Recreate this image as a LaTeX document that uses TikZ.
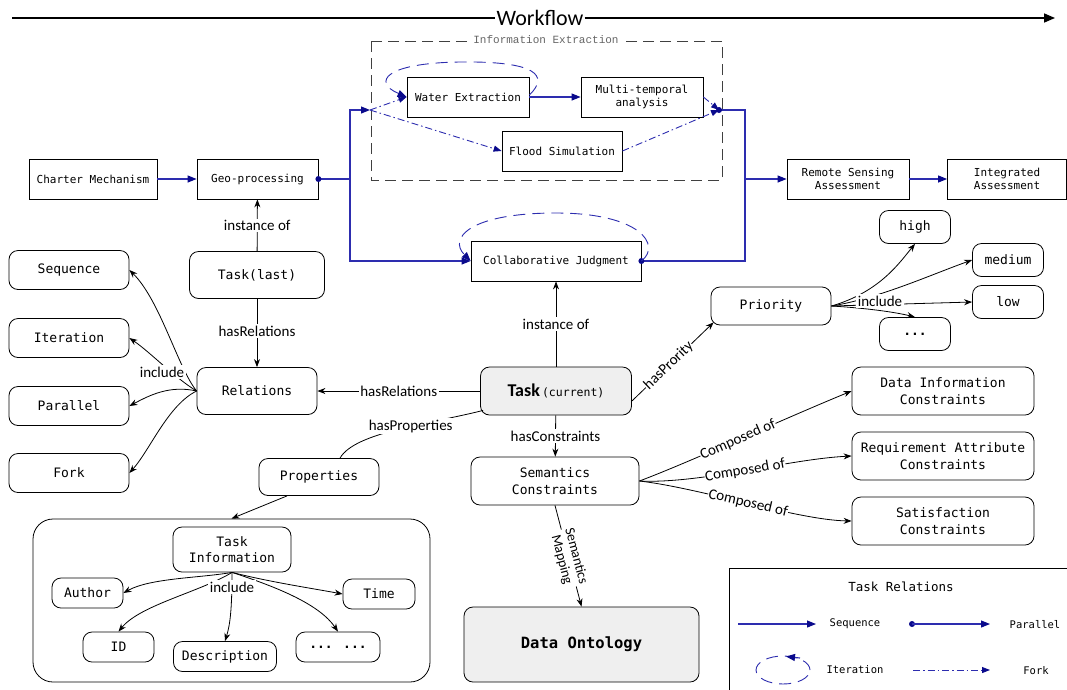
\documentclass[tikz,border=0pt]{standalone}
\usepackage{fontspec}
\usetikzlibrary{arrows.meta,calc}
\newfontfamily\monof{DejaVu Sans Mono}
\newfontfamily\labf{Carlito}
\newfontfamily\serm{Liberation Mono}
\definecolor{flowc}{RGB}{45,45,175}
\definecolor{headc}{RGB}{10,10,140}
\definecolor{boxfill}{RGB}{239,239,239}
\begin{document}
\begin{tikzpicture}[x=1pt,y=-1pt,
  wfbox/.style={draw, line width=0.8pt, font=\monof\fontsize{11}{13.5}\selectfont, align=center, inner sep=0pt, minimum height=40pt},
  obox/.style={draw, line width=0.8pt, rounded corners=9pt, font=\monof\fontsize{13}{16.5}\selectfont, align=center, inner sep=0pt},
  lab/.style={font=\labf\fontsize{15}{17}\selectfont, fill=white, inner sep=1.5pt},
  leg/.style={font=\monof\fontsize{10.5}{13}\selectfont},
  arr/.style={line width=0.8pt, -{Stealth[length=8pt,width=6pt]}},
  plain/.style={line width=0.8pt},
  flow/.style={draw=flowc, line width=1.1pt},
  seq/.style={flow, -{Triangle[length=9pt,width=7pt,color=headc]}},
  fork/.style={flow, line width=0.9pt, dash pattern=on 7pt off 3pt on 1.5pt off 3pt, -{Triangle[length=8pt,width=6pt,color=headc]}},
  iter/.style={flow, line width=0.9pt, dash pattern=on 12pt off 7pt, -{Triangle[length=9pt,width=7pt,color=headc]}}
]
\useasboundingbox (0,0) rectangle (1067,689);

% ---------- Workflow axis
\node[font=\labf\fontsize{22}{24}\selectfont, inner sep=1pt] (wfl) at (540,18) {Workflow};
\coordinate (wfs) at (12,18);
\coordinate (wfe) at (1055,18);
\draw[line width=1.6pt] (wfs) -- (wfl.west);
\draw[line width=1.6pt, -{Triangle[length=11pt,width=9pt]}] (wfl.east) -- (wfe);

% ---------- Information extraction frame
\draw[dash pattern=on 11pt off 6pt, line width=0.9pt, black!75] (371,41) rectangle (722,180);
\node[fill=white, font=\serm\fontsize{11}{12}\selectfont, text=black!60, inner sep=2pt] (iet) at (546,40) {Information Extraction};

% ---------- Workflow boxes
\node[wfbox, minimum width=128pt] (cm) at (93,179) {Charter Mechanism};
\node[wfbox, minimum width=121pt] (gp) at (257.5,179) {Geo-processing};
\node[wfbox, minimum width=122pt] (we) at (468,97) {Water Extraction};
\node[wfbox, minimum width=122pt] (mt) at (642,97) {Multi-temporal\\analysis};
\node[wfbox, minimum width=120pt] (fs) at (562,151) {Flood Simulation};
\node[wfbox, minimum width=122pt] (rs) at (848,179) {Remote Sensing\\Assessment};
\node[wfbox, minimum width=119pt] (ia) at (1007,179) {Integrated\\Assessment};
\node[wfbox, minimum width=170pt] (cj) at (556,261) {Collaborative Judgment};

\coordinate (forkL) at (370,110);
\coordinate (splitT) at (350,110);
\coordinate (splitM) at (350,179);
\coordinate (splitB) at (350,261);
\coordinate (joinR) at (719,110);
\coordinate (mergeT) at (745,110);
\coordinate (mergeM) at (745,179);
\coordinate (mergeB) at (745,261);

\draw[seq] (cm.east) -- (gp.west);
\draw[flow] (gp.east) -- (splitM);
\draw[seq] (splitM) -- (splitT) -- (forkL);
\draw[seq] (splitM) -- (splitB) -- (cj.west);
\draw[seq] (we.east) -- (mt.west);
\draw[fork] (forkL) -- (we.west);
\draw[fork] (forkL) -- (fs.west);
\draw[fork] (mt.east) -- (joinR);
\draw[fork] (fs.east) -- (joinR);
\draw[flow] (joinR) -- (mergeT) -- (mergeB) -- (cj.east);
\draw[seq] (mergeM) -- (rs.west);
\draw[seq] (rs.east) -- (ia.west);
\fill[headc] (gp.east) circle (3pt);
\fill[headc] (joinR) circle (3pt);
\fill[headc] (cj.east) circle (3pt);

\draw[iter] ($(we.east)+(0,-2)$) .. controls (550,75) and (535,61) .. (460,62) .. controls (385,63) and (372,82) .. (we.west);
\draw[iter] (cj.east) .. controls (662,245) and (640,213) .. (556,213) .. controls (470,213) and (448,238) .. (cj.west);

% ---------- Ontology part
\node[obox, minimum width=135pt, minimum height=47pt] (tl) at (257,275) {Task(last)};
\node[obox, minimum width=120pt, minimum height=47pt] (rel) at (257,391) {Relations};
\node[obox, minimum width=120pt, minimum height=39pt] (sq) at (69,270) {Sequence};
\node[obox, minimum width=120pt, minimum height=39pt] (it) at (69,338) {Iteration};
\node[obox, minimum width=120pt, minimum height=39pt] (pa) at (69,406) {Parallel};
\node[obox, minimum width=120pt, minimum height=39pt] (fk) at (69,473) {Fork};

\node[obox, fill=boxfill, minimum width=151pt, minimum height=48pt] (tc) at (556,391)
  {{\labf\bfseries\fontsize{18}{20}\selectfont Task}\,{\fontsize{11.5}{14}\selectfont(current)}};
\node[obox, minimum width=120pt, minimum height=38pt] (pri) at (771,306) {Priority};
\node[obox, minimum width=71pt, minimum height=33pt] (hi) at (915,227) {high};
\node[obox, minimum width=71pt, minimum height=33pt] (me) at (1008,260) {medium};
\node[obox, minimum width=71pt, minimum height=33pt] (lo) at (1008,302) {low};
\node[obox, minimum width=71pt, minimum height=33pt, font=\monof\bfseries\fontsize{13}{16.5}\selectfont] (pd) at (915,334) {...};

\node[obox, minimum width=182pt, minimum height=48pt] (dic) at (943,391) {Data Information\\Constraints};
\node[obox, minimum width=182pt, minimum height=48pt] (rac) at (943,456) {Requirement Attribute\\Constraints};
\node[obox, minimum width=182pt, minimum height=48pt] (sac) at (943,521) {Satisfaction\\Constraints};
\node[obox, minimum width=168pt, minimum height=48pt] (scn) at (555,481) {Semantics\\Constraints};
\node[obox, fill=boxfill, minimum width=235pt, minimum height=75pt, font=\monof\bfseries\fontsize{15.5}{18}\selectfont] (dont) at (581.5,644.5) {Data Ontology};

\node[obox, minimum width=120pt, minimum height=37pt] (prop) at (319,477) {Properties};
\node[draw, line width=0.8pt, rounded corners=20pt, minimum width=397pt, minimum height=163pt] (bb) at (231.5,600.5) {};
\node[obox, minimum width=118pt, minimum height=45pt] (ti) at (232,549.5) {Task\\Information};
\node[obox, minimum width=71pt, minimum height=30pt] (au) at (87.5,593) {Author};
\node[obox, minimum width=72pt, minimum height=30pt] (tm) at (379,594) {Time};
\node[obox, minimum width=71pt, minimum height=30pt] (idn) at (118.5,647) {ID};
\node[obox, minimum width=103pt, minimum height=30pt] (de) at (225,656.5) {Description};
\node[obox, minimum width=84pt, minimum height=30pt, font=\monof\bfseries\fontsize{13}{16.5}\selectfont] (dd) at (338,647) {... ...};

% connectors with labels
\draw[arr] (tl) -- node[lab]{instance of} (gp);
\draw[arr] (tl) -- node[lab, pos=0.47]{hasRelations} (rel);
\draw[arr] (tc) -- node[lab]{hasRelations} (rel);
\draw[arr] (tc) -- node[lab]{instance of} (cj);
\draw[arr] (tc) -- node[lab, pos=0.5]{hasConstraints} (scn);
\coordinate (tcsw) at ($(tc.south west)+(3,-5)$);
\coordinate (prn) at ($(prop.north)+(21,0)$);
\draw[plain] (tcsw) .. controls (430,424) and (355,432) .. (prn) node[lab, pos=0.42]{hasProperties};
\coordinate (prb) at ($(prop.south)+(-32,0)$);
\draw[arr] (prb) -- (bb.north);
\coordinate (prisw) at ($(pri.south west)+(3,-3)$);
\draw[arr] ($(tc.east)+(0,10)$) -- node[lab, sloped, pos=0.45, inner sep=0.5pt]{hasPrority} (prisw);
\draw[arr] (scn.south) -- node[lab, sloped, align=center, pos=0.52, inner sep=0.5pt, font=\labf\fontsize{14}{15}\selectfont]{Semantics\\Mapping} (dont.north);

\draw[arr] (scn.east) .. controls (690,462) and (781,420) .. (dic.west) node[lab, sloped, pos=0.5, inner sep=0.5pt]{Composed of};
\draw[arr] (scn.east) .. controls (700,484) and (790,459) .. (rac.west) node[lab, sloped, pos=0.5, inner sep=0.5pt]{Composed of};
\draw[arr] (scn.east) .. controls (700,488) and (798,520) .. (sac.west) node[lab, sloped, pos=0.5, inner sep=0.5pt]{Composed of};

% relations include
\draw[arr] (rel.west) .. controls (178,368) and (160,300) .. (sq.east);
\draw[arr] (rel.west) .. controls (175,378) and (150,352) .. (it.east);
\draw[arr] (rel.west) .. controls (170,385) and (150,395) .. (pa.east);
\draw[arr] (rel.west) .. controls (168,405) and (150,450) .. (fk.east);
\node[lab, fill=white] (inc1) at (162,372) {include};

% priority include
\draw[arr] (pri.east) .. controls (880,292) and (900,262) .. (hi.south);
\draw[arr] (pri.east) .. controls (880,298) and (930,275) .. (me.west);
\draw[arr] (pri.east) -- (lo.west);
\draw[arr] (pri.east) .. controls (865,308) and (895,312) .. (pd.north);
\node[lab] (inc2) at (880,301) {include};

% task info include
\draw[arr] (ti.south) .. controls (200,578) and (150,578) .. (au.east);
\draw[arr] (ti.south) .. controls (200,592) and (140,605) .. (idn.north);
\draw[arr] (ti.south) .. controls (232,610) and (230,625) .. (de.north);
\draw[arr] (ti.south) .. controls (270,582) and (310,588) .. (tm.west);
\draw[arr] (ti.south) .. controls (280,588) and (320,605) .. (dd.north);
\node[lab] (inc3) at (232,587) {include};

% ---------- Legend
\draw[line width=0.8pt] (729,568) rectangle (1080,700);
\node[font=\monof\fontsize{12.5}{15}\selectfont] (lgt) at (901,587) {Task Relations};
\coordinate (l1a) at (738,624); \coordinate (l1b) at (816,624);
\coordinate (l2a) at (912,624); \coordinate (l2b) at (990,624);
\coordinate (l4a) at (913,670); \coordinate (l4b) at (990,670);
\coordinate (lic) at (783,670);
\draw[seq] (l1a) -- (l1b);
\node[leg] (ls) at (855,624) {Sequence};
\fill[headc] (l2a) circle (3pt);
\draw[seq] (l2a) -- (l2b);
\node[leg] (lp) at (1035,625) {Parallel};
\draw[flow, line width=0.9pt, dash pattern=on 12pt off 7pt] (lic) ellipse (27pt and 14pt);
\coordinate (lih) at (800,658); \coordinate (lit) at (786,656.5);
\draw[flow, -{Triangle[length=9pt,width=7pt,color=headc]}] (lih) -- (lit);
\node[leg] (li) at (855,670) {Iteration};
\draw[fork] (l4a) -- (l4b);
\node[leg] (lf) at (1036,671) {Fork};
\end{tikzpicture}
\end{document}
